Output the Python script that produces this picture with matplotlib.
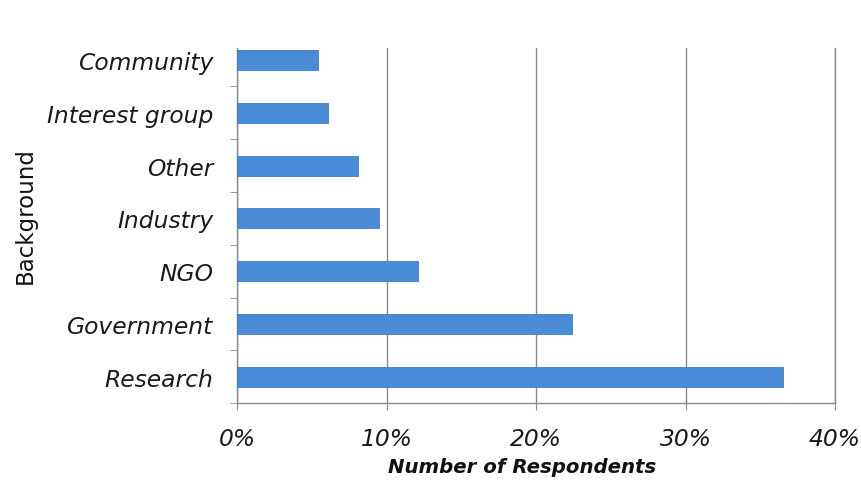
import numpy as np
import matplotlib
matplotlib.use('Agg')
import matplotlib.pyplot as plt
from matplotlib.ticker import FixedLocator, PercentFormatter

# Respondent background shares (percent), bottom to top
categories = ["Research", "Government", "NGO", "Industry", "Other", "Interest group", "Community"]
shares = [36.5, 22.4, 12.1, 9.5, 8.1, 6.1, 5.4]
x_ticks = [0, 10, 20, 30, 40]

fig = plt.figure(figsize=(8.61, 4.85), dpi=100)
ax = fig.add_axes([0.2753, 0.167, 0.6945, 0.732])

y = np.arange(len(categories))
ax.barh(y, shares, height=0.38, color='#4a8cd8', edgecolor='#3f7cc4', linewidth=0.6, zorder=3)

ax.set_xlim(0, 40)
ax.set_ylim(-0.5, 6.23)
ax.set_xticks(x_ticks)
ax.xaxis.set_major_formatter(PercentFormatter(decimals=0))
ax.set_yticks(y)
ax.set_yticklabels(categories)
ax.yaxis.set_minor_locator(FixedLocator(np.arange(len(categories)) - 0.5))

ax.grid(axis='x', color='#8a8a8a', linewidth=1.0, zorder=0)
ax.spines['top'].set_visible(False)
for side in ['left', 'bottom', 'right']:
    ax.spines[side].set_color('#8a8a8a')
    ax.spines[side].set_linewidth(1.0)

ax.tick_params(axis='y', which='major', length=0, pad=17)
ax.tick_params(axis='y', which='minor', length=5, color='#8a8a8a', direction='out')
ax.tick_params(axis='x', which='major', length=5, color='#8a8a8a', direction='out', pad=12)
for t in ax.get_xticklabels() + ax.get_yticklabels():
    t.set_fontfamily('DejaVu Sans')
    t.set_fontstyle('oblique')
    t.set_fontsize(16.8)
    t.set_color('#1a1a1a')

fig.text(0.606, 0.037, "Number of Respondents", ha='center', va='center',
         family='DejaVu Sans', style='oblique', weight='bold', size=14.2, color='#111111')
fig.text(0.029, 0.556, "Background", rotation=90, ha='center', va='center',
         family='DejaVu Sans', size=16.5, color='#111111')

fig.savefig('out.png', dpi=100, facecolor='white')
